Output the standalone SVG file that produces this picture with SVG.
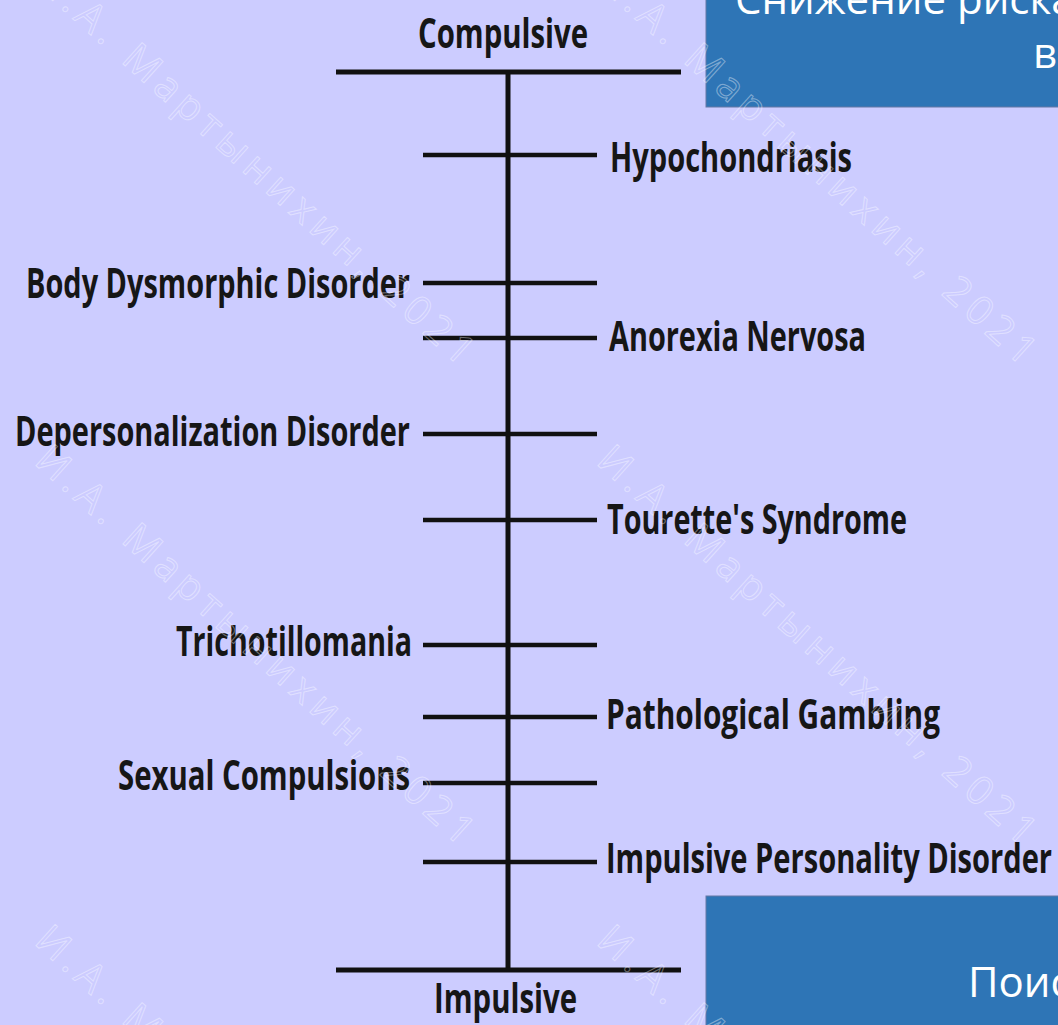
<svg xmlns="http://www.w3.org/2000/svg" width="1058" height="1025" viewBox="0 0 1058 1025">
<style>
.lbl{font-family:"Open Sans","Liberation Sans",sans-serif;font-weight:700;font-size:41px;fill:#161616}
.ax{stroke:#111;stroke-width:5;stroke-linecap:butt;fill:none}
.tk{stroke:#111;stroke-width:4.5;fill:none}
.box{fill:#2E75B6;stroke:#6479a6;stroke-width:1}
.ttl{font-family:"Open Sans","Noto Sans","DejaVu Sans",sans-serif;font-size:42px;fill:#ffffff}
.wm{font-family:"Open Sans","DejaVu Sans",sans-serif;font-size:40px;fill:none;stroke:#ffffff;stroke-width:1;stroke-opacity:0.4}
</style>
<rect x="0" y="0" width="1058" height="1025" fill="#CCCCFF"/>
<g id="slide-boxes">
<rect class="box" x="706" y="-2" width="360" height="109"/>
<rect class="box" x="706" y="896" width="360" height="140"/>
<text class="ttl" x="735" y="14">Снижение риска</text>
<text class="ttl" x="1033" y="68">вр</text>
<text class="ttl" x="968" y="997">Поис</text>
</g>
<g id="connectors">
<line class="ax" x1="508" y1="72" x2="508" y2="970"/>
<line class="ax" x1="336" y1="72" x2="681" y2="72"/>
<line class="ax" x1="336" y1="970" x2="681" y2="970"/>
<line class="tk" x1="423" y1="155" x2="597" y2="155"/>
<line class="tk" x1="423" y1="283" x2="597" y2="283"/>
<line class="tk" x1="423" y1="338" x2="597" y2="338"/>
<line class="tk" x1="423" y1="434" x2="597" y2="434"/>
<line class="tk" x1="423" y1="520" x2="597" y2="520"/>
<line class="tk" x1="423" y1="645" x2="597" y2="645"/>
<line class="tk" x1="423" y1="717" x2="597" y2="717"/>
<line class="tk" x1="423" y1="783" x2="597" y2="783"/>
<line class="tk" x1="423" y1="862" x2="597" y2="862"/>
</g>
<g id="node-compulsive"><text class="lbl" x="418" y="48" textLength="170" lengthAdjust="spacingAndGlyphs">Compulsive</text></g>
<g id="node-impulsive"><text class="lbl" x="434" y="1013" textLength="143" lengthAdjust="spacingAndGlyphs">Impulsive</text></g>
<g id="node-hypochondriasis"><text class="lbl" x="610" y="172" textLength="242" lengthAdjust="spacingAndGlyphs">Hypochondriasis</text></g>
<g id="node-bdd"><text class="lbl" x="26" y="298" textLength="384" lengthAdjust="spacingAndGlyphs">Body Dysmorphic Disorder</text></g>
<g id="node-anorexia"><text class="lbl" x="609" y="351" textLength="257" lengthAdjust="spacingAndGlyphs">Anorexia Nervosa</text></g>
<g id="node-depersonalization"><text class="lbl" x="15" y="446" textLength="395" lengthAdjust="spacingAndGlyphs">Depersonalization Disorder</text></g>
<g id="node-tourette"><text class="lbl" x="607" y="534" textLength="300" lengthAdjust="spacingAndGlyphs">Tourette's Syndrome</text></g>
<g id="node-trichotillomania"><text class="lbl" x="176" y="656" textLength="236" lengthAdjust="spacingAndGlyphs">Trichotillomania</text></g>
<g id="node-gambling"><text class="lbl" x="606" y="729" textLength="334" lengthAdjust="spacingAndGlyphs">Pathological Gambling</text></g>
<g id="node-sexual"><text class="lbl" x="118" y="790" textLength="292" lengthAdjust="spacingAndGlyphs">Sexual Compulsions</text></g>
<g id="node-ipd"><text class="lbl" x="606" y="873" textLength="446" lengthAdjust="spacingAndGlyphs">Impulsive Personality Disorder</text></g>
<g id="watermarks">
<text class="wm" transform="translate(33,-17) rotate(42)" textLength="574" lengthAdjust="spacing">И.А. Мартынихин, 2021</text>
<text class="wm" transform="translate(595,-17) rotate(42)" textLength="574" lengthAdjust="spacing">И.А. Мартынихин, 2021</text>
<text class="wm" transform="translate(33,463) rotate(42)" textLength="574" lengthAdjust="spacing">И.А. Мартынихин, 2021</text>
<text class="wm" transform="translate(595,463) rotate(42)" textLength="574" lengthAdjust="spacing">И.А. Мартынихин, 2021</text>
<text class="wm" transform="translate(33,943) rotate(42)" textLength="574" lengthAdjust="spacing">И.А. Мартынихин, 2021</text>
<text class="wm" transform="translate(595,943) rotate(42)" textLength="574" lengthAdjust="spacing">И.А. Мартынихин, 2021</text>
</g>
</svg>
